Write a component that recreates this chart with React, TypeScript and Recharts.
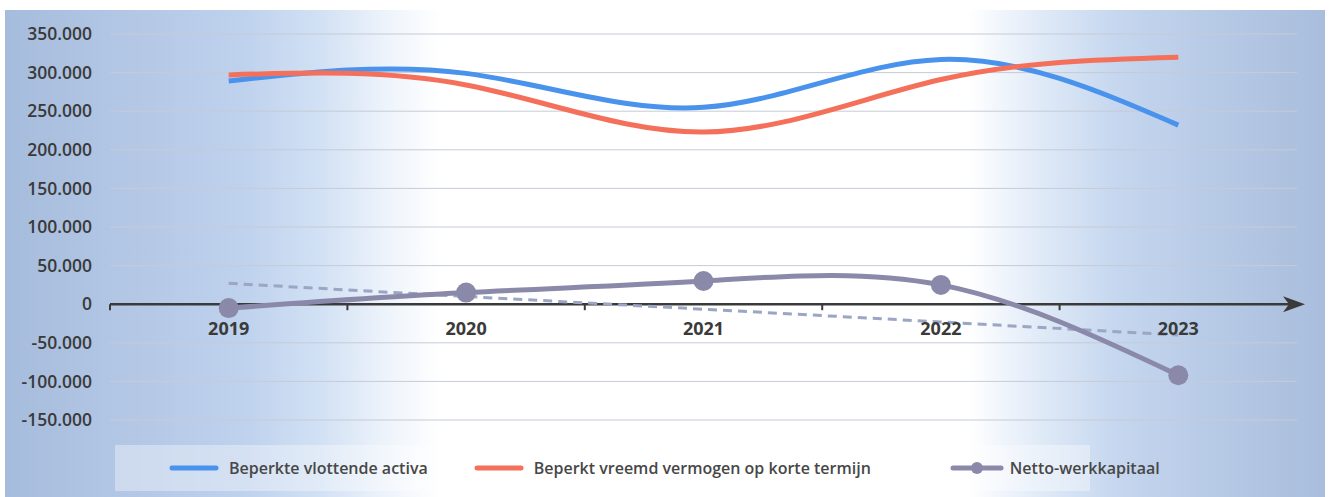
import React from "react";
import {
  CartesianGrid,
  ComposedChart,
  Line,
  ReferenceDot,
  ReferenceLine,
  XAxis,
  YAxis,
} from "recharts";

const years = ["2019", "2020", "2021", "2022", "2023"];
const vlottendeActiva = [289000, 299000, 255000, 317000, 232000];
const vreemdVermogen = [297000, 284000, 223000, 291000, 320000];
const nettoWerkkapitaal = [-5000, 15000, 30000, 25000, -92000];
const trendNetto = [27000, 10000, -6500, -23000, -40000];
const yTicks = [350000, 300000, 250000, 200000, 150000, 100000, 50000, 0, -50000, -100000, -150000];

const BLUE = "#4a93ec";
const RED = "#f4705a";
const PURPLE = "#8b89a9";
const TREND = "#9ba5c4";
const FONT = "'Open Sans', sans-serif";

const data = years.map((year, i) => ({
  year,
  activa: vlottendeActiva[i],
  vreemd: vreemdVermogen[i],
  netto: nettoWerkkapitaal[i],
  trend: trendNetto[i],
}));

const fmt = (v: number) => {
  const s = Math.abs(v).toString().replace(/\B(?=(\d{3})+(?!\d))/g, ".");
  return v < 0 ? "-" + s : s;
};

// zero line drawn as the category axis, with band ticks and an arrow head
const ZeroAxis = (props: any) => {
  const { x1, y1, x2 } = props;
  const n = years.length;
  const step = (x2 - x1) / n;
  const ticks = Array.from({ length: n }, (_, i) => x1 + step * i);
  return (
    <g>
      <line x1={x1} y1={y1} x2={x2 + 4} y2={y1} stroke="#3a3a3a" strokeWidth={2.5} />
      {ticks.map((t) => (
        <line key={t} x1={t} y1={y1} x2={t} y2={y1 + 6} stroke="#3a3a3a" strokeWidth={2} />
      ))}
      <path
        d={`M${x2 - 14},${y1 - 8} L${x2 + 8},${y1} L${x2 - 14},${y1 + 8} L${x2 - 8},${y1} Z`}
        fill="#3a3a3a"
      />
    </g>
  );
};

const legendItems = [
  { label: "Beperkte vlottende activa", color: BLUE, dot: false, gap: 45 },
  { label: "Beperkt vreemd vermogen op korte termijn", color: RED, dot: false, gap: 78 },
  { label: "Netto-werkkapitaal", color: PURPLE, dot: true, gap: 0 },
];

const ChartLegend = () => (
  <div
    style={{
      position: "absolute",
      left: 110,
      top: 435,
      width: 975,
      display: "flex",
      alignItems: "center",
      height: 46,
      paddingLeft: 53,
      boxSizing: "border-box",
      background: "rgba(255,255,255,0.35)",
      fontFamily: FONT,
      fontWeight: 600,
      fontSize: 16,
      color: "#474747",
      whiteSpace: "nowrap",
    }}
  >
    {legendItems.map((it) => (
      <div key={it.label} style={{ display: "flex", alignItems: "center", marginRight: it.gap, flexShrink: 0 }}>
        <svg width={55} height={14} style={{ marginRight: 6 }}>
          <line x1={4} y1={7} x2={it.dot ? 52 : 48} y2={7} stroke={it.color} strokeWidth={5} strokeLinecap="round" />
          {it.dot && <circle cx={28} cy={7} r={6} fill={it.color} />}
        </svg>
        <span>{it.label}</span>
      </div>
    ))}
  </div>
);

export default function App() {
  return (
    <div
      style={{
        position: "absolute",
        left: 5,
        top: 10,
        width: 1320,
        height: 487,
        background:
          "linear-gradient(90deg, #a6bcdc 0%, #b4c8e6 10%, #bed1ed 18%, #d2e1f4 24%, #eef4fb 29%, #ffffff 33%, #ffffff 73%, #e2ecf8 78%, #c6d7ef 84%, #b6c9e5 92%, #a9bedd 100%)",
      }}
    >
      <ComposedChart
        width={1320}
        height={487}
        data={data}
        margin={{ top: 24, right: 28, bottom: 77, left: 5 }}
      >
        <CartesianGrid vertical={false} stroke="#c6cbd6" strokeWidth={1} />
        <XAxis dataKey="year" scale="band" hide />
        <YAxis
          width={100}
          domain={[-150000, 350000]}
          ticks={yTicks}
          interval={0}
          tickFormatter={fmt}
          axisLine={false}
          tickLine={false}
          tickSize={0}
          tickMargin={18}
          tick={{ fill: "#3a3a3a", fontSize: 17.5, fontWeight: 600, fontFamily: FONT }}
        />
        <ReferenceLine y={0} shape={ZeroAxis} />
        {years.map((y) => (
          <ReferenceDot
            key={y}
            x={y}
            y={0}
            r={0}
            label={{
              value: y,
              position: "bottom",
              offset: 18,
              fill: "#3a3a3a",
              fontSize: 18,
              fontWeight: 700,
              fontFamily: FONT,
            }}
          />
        ))}
        <Line
          dataKey="trend"
          type="linear"
          stroke={TREND}
          strokeWidth={3}
          strokeDasharray="9 6"
          dot={false}
          isAnimationActive={false}
        />
        <Line
          dataKey="activa"
          type="natural"
          stroke={BLUE}
          strokeWidth={5}
          dot={false}
          isAnimationActive={false}
        />
        <Line
          dataKey="vreemd"
          type="natural"
          stroke={RED}
          strokeWidth={5}
          dot={false}
          isAnimationActive={false}
        />
        <Line
          dataKey="netto"
          type="natural"
          stroke={PURPLE}
          strokeWidth={5}
          dot={{ r: 10, fill: PURPLE, stroke: PURPLE, strokeWidth: 0 }}
          isAnimationActive={false}
        />
      </ComposedChart>
      <ChartLegend />
    </div>
  );
}
